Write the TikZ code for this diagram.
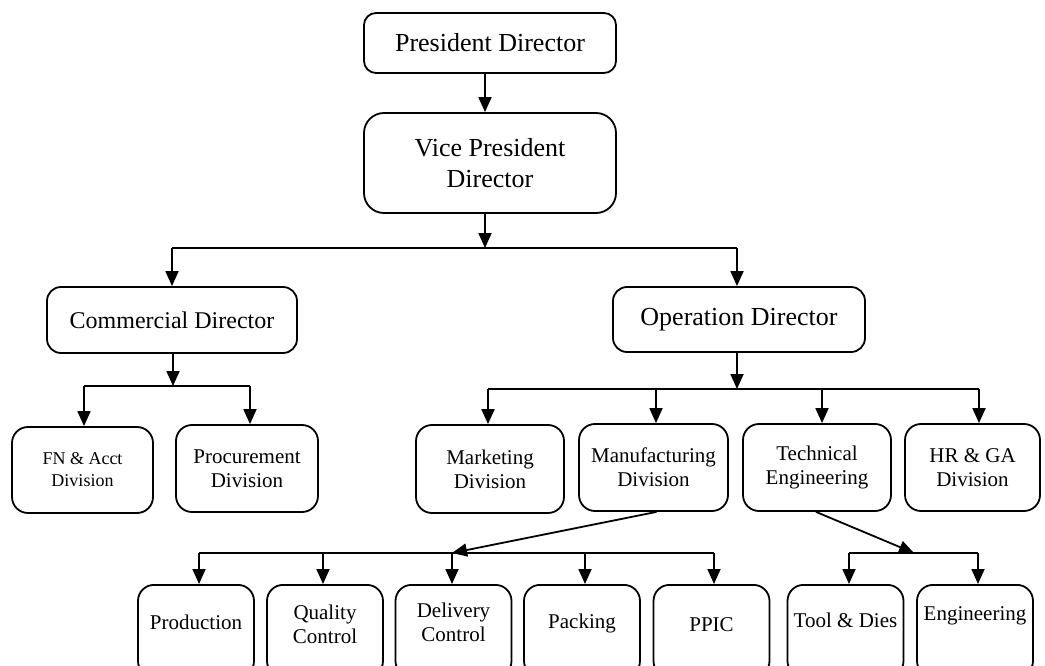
\documentclass[tikz,border=0pt]{standalone}
\usepackage{fontspec}
\setmainfont{Liberation Serif}
\usetikzlibrary{arrows.meta,calc}
\begin{document}
\begin{tikzpicture}[x=1pt,y=-1pt,
  box/.style={draw, line width=1.8pt, rounded corners=14pt, inner sep=0pt, align=center},
  arr/.style={line width=1.8pt, -{Triangle[length=15pt,width=13pt]}},
  ln/.style={line width=1.8pt},
  fbig/.style={font=\fontsize{26}{31}\selectfont},
  fmid/.style={font=\fontsize{24}{28}\selectfont},
  fdiv/.style={font=\fontsize{21}{24}\selectfont},
  fsm/.style={font=\fontsize{18}{22}\selectfont}]
\useasboundingbox (0,0) rectangle (1045,666);
\clip (0,0) rectangle (1045,666);

% top
\node[box, fbig, rounded corners=12pt, minimum width=252pt, minimum height=60pt] (pres) at (490,43) {President Director};
\node[box, fbig, rounded corners=20pt, minimum width=252pt, minimum height=100pt] (vp) at (490,163) {Vice President\\Director};

% directors
\node[box, fmid, minimum width=250pt, minimum height=66pt] (comm) at (172,320) {Commercial Director};
\node[box, fbig, minimum width=252pt, minimum height=65pt] (oper) at (739,319.5) {Operation Director};

% divisions
\node[box, fsm, rounded corners=16pt, minimum width=141pt, minimum height=86pt] (fn) at (82.5,470) {FN \& Acct\\Division};
\node[box, fdiv, rounded corners=16pt, minimum width=142pt, minimum height=87pt] (proc) at (247,468.5) {Procurement\\Division};
\node[box, fdiv, rounded corners=16pt, minimum width=148pt, minimum height=88pt] (mkt) at (490,469) {Marketing\\Division};
\node[box, fdiv, rounded corners=16pt, minimum width=149pt, minimum height=87pt] (manu) at (653.5,467.5) {Manufacturing\\Division};
\node[box, fdiv, rounded corners=16pt, minimum width=148pt, minimum height=87pt] (tech) at (817,467.5) {Technical\\Engineering};
\node[box, fdiv, rounded corners=16pt, minimum width=135pt, minimum height=87pt] (hr) at (972.5,467.5) {HR \& GA\\Division};

% bottom boxes (cut by the lower edge)
\foreach \n/\x in {prod/196, qc/325, dc/453.5, pack/582, ppic/711.5, tool/845.5, eng/975}{
  \node[box, rounded corners=16pt, minimum width=116pt, minimum height=92pt, anchor=north] (\n) at (\x,584) {};
}
\node[fdiv] (prodt) at (196,622) {Production};
\node[fdiv, align=center] (qct) at (325,624) {Quality\\Control};
\node[fdiv, align=center] (dct) at (453.5,622) {Delivery\\Control};
\node[fdiv] (packt) at (582,623) {Packing};
\node[fdiv] (ppict) at (711.5,625) {PPIC};
\node[fdiv] (toolt) at (845.5,620) {Tool \& Dies};
\node[fdiv] (engt) at (975,616) {Engineering};

% junction coordinates
\coordinate (j0) at (485,248);
\coordinate (jL) at (172,248);
\coordinate (jR) at (737,248);
\coordinate (k0) at (173,386);
\coordinate (kL) at (84,386);
\coordinate (kR) at (250,386);
\coordinate (o0) at (737,389);
\coordinate (o1) at (488,389);
\coordinate (o2) at (656,389);
\coordinate (o3) at (822,389);
\coordinate (o4) at (979,389);
\coordinate (m0) at (452,553);
\coordinate (m1) at (199,553);
\coordinate (m2) at (323,553);
\coordinate (m4) at (585,553);
\coordinate (m5) at (714,553);
\coordinate (t0) at (914,553);
\coordinate (t1) at (849,553);
\coordinate (t2) at (978,553);

% connectors
\draw[arr] (pres.south -| j0) -- (vp.north -| j0);
\draw[arr] (vp.south -| j0) -- (j0);
\draw[ln] (jL) -- (jR);
\draw[arr] (jL) -- (comm.north -| jL);
\draw[arr] (jR) -- (oper.north -| jR);

\draw[arr] (comm.south -| k0) -- (k0);
\draw[ln] (kL) -- (kR);
\draw[arr] (kL) -- (fn.north -| kL);
\draw[arr] (kR) -- (proc.north -| kR);

\draw[arr] (oper.south -| o0) -- (o0);
\draw[ln] (o1) -- (o4);
\draw[arr] (o1) -- (mkt.north -| o1);
\draw[arr] (o2) -- (manu.north -| o2);
\draw[arr] (o3) -- (tech.north -| o3);
\draw[arr] (o4) -- (hr.north -| o4);

\draw[arr] ($(manu.south)+(3,0)$) -- (m0);
\draw[ln] (m1) -- (m5);
\draw[arr] (m1) -- (prod.north -| m1);
\draw[arr] (m2) -- (qc.north -| m2);
\draw[arr] (m0) -- (dc.north -| m0);
\draw[arr] (m4) -- (pack.north -| m4);
\draw[arr] (m5) -- (ppic.north -| m5);

\draw[arr] ($(tech.south)+(-1,0)$) -- (t0);
\draw[ln] (t1) -- (t2);
\draw[arr] (t1) -- (tool.north -| t1);
\draw[arr] (t2) -- (eng.north -| t2);
\end{tikzpicture}
\end{document}
